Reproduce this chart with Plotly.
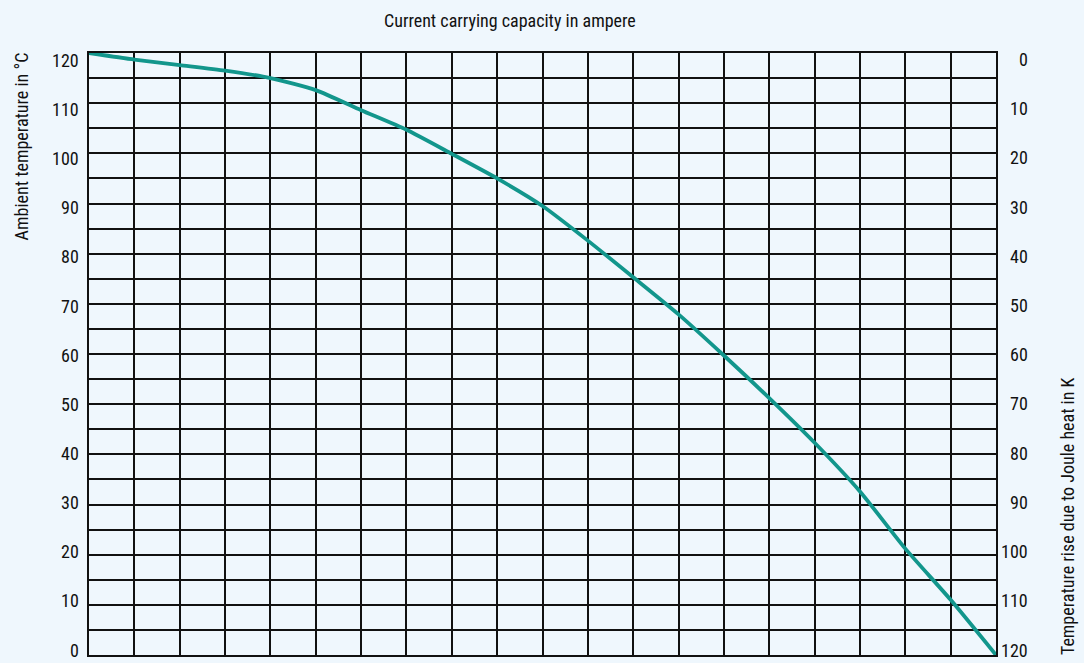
import plotly.graph_objects as go

# Data (x in grid columns of current; y ambient temperature in °C)
current_steps = list(range(0, 21))
ambient_temp = [120, 118.7, 117.6, 116.5, 115.0, 112.6, 108.6, 104.7, 99.9, 95.0,
                89.5, 82.6, 75.3, 67.9, 59.7, 51.2, 42.3, 32.6, 21.2, 11.0, 0]
left_ticks = list(range(0, 121, 10))
right_ticks = list(range(0, 121, 10))  # temperature rise in K (reversed axis)

title_text = "Current carrying capacity in ampere"
left_title = "Ambient temperature in °C"
right_title = "Temperature rise due to Joule heat in K"

FONT = "Liberation Sans Narrow, Roboto Condensed, DejaVu Sans Condensed, sans-serif"
BG = "#eff7fd"
LINE = "#12968c"
TXT = "#111111"
FS = 18
W, H = 1084, 663
L, R, T, B = 89, 88, 52.5, 8
PW, PH = W - L - R, H - T - B

# tick label columns (in the reference the labels run slightly off the grid pitch)
LBL_TOP, LBL_BOT = 60, 650


def py_to_paper(py):
    return (H - B - py) / PH


fig = go.Figure()
fig.add_trace(go.Scatter(
    x=current_steps, y=ambient_temp, mode="lines",
    line=dict(color=LINE, width=3.8, shape="spline", smoothing=0.6),
    cliponaxis=False, showlegend=False, hoverinfo="skip",
))

fig.update_layout(
    width=W, height=H,
    paper_bgcolor=BG, plot_bgcolor=BG,
    margin=dict(l=L, r=R, t=T, b=B, pad=0),
    font=dict(family=FONT, size=FS, color=TXT),
    xaxis=dict(range=[0, 20], dtick=1, tick0=0, showticklabels=False, ticks="",
               showgrid=True, gridcolor="#111111", gridwidth=1.6,
               showline=True, linecolor="#111111", linewidth=1.6, mirror=True,
               zeroline=False, fixedrange=True),
    yaxis=dict(range=[0, 120], dtick=10, tick0=0, ticks="", showticklabels=False,
               showgrid=True, gridcolor="#111111", gridwidth=1.6,
               minor=dict(dtick=5, tick0=0, showgrid=True, gridcolor="#111111", gridwidth=1.6),
               showline=True, linecolor="#111111", linewidth=1.6, mirror=True,
               zeroline=False, fixedrange=True),
)

annotations = []
for v in left_ticks:
    py = LBL_BOT - v / 120 * (LBL_BOT - LBL_TOP)
    annotations.append(dict(x=(81 - L) / PW, xref="paper", y=py_to_paper(py), yref="paper",
                            text=str(v), showarrow=False, xanchor="right", yanchor="middle",
                            font=dict(family=FONT, size=FS, color=TXT)))
for v in right_ticks:
    py = LBL_TOP - 1 + v / 120 * (LBL_BOT - LBL_TOP + 1)
    annotations.append(dict(x=(1030 - L) / PW, xref="paper", y=py_to_paper(py), yref="paper",
                            text=str(v), showarrow=False, xanchor="right", yanchor="middle",
                            font=dict(family=FONT, size=FS, color=TXT)))

annotations.append(dict(x=(510 - L) / PW, xref="paper", y=py_to_paper(20),
                        yref="paper", text=title_text, showarrow=False,
                        xanchor="center", yanchor="middle",
                        font=dict(family=FONT, size=FS, color=TXT)))
annotations.append(dict(x=(21 - L) / PW, xref="paper", y=py_to_paper(146), yref="paper",
                        text=left_title, textangle=-90, showarrow=False,
                        xanchor="center", yanchor="middle",
                        font=dict(family=FONT, size=FS, color=TXT)))
annotations.append(dict(x=(1067 - L) / PW, xref="paper", y=py_to_paper(516), yref="paper",
                        text=right_title, textangle=-90, showarrow=False,
                        xanchor="center", yanchor="middle",
                        font=dict(family=FONT, size=FS, color=TXT)))
fig.update_layout(annotations=annotations)

fig.write_html("out.html", config=dict(displayModeBar=False),
               post_script="document.body.style.margin='0';document.body.style.background='%s';" % BG)
